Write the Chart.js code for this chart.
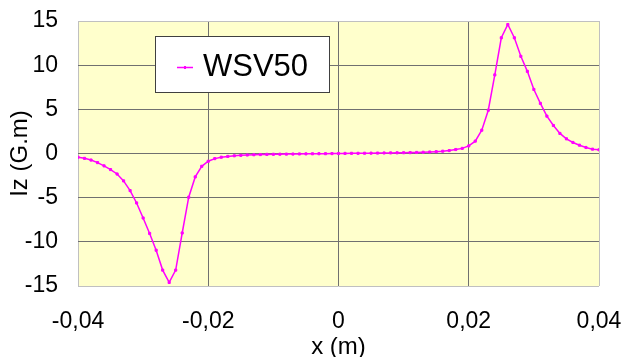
<!DOCTYPE html>
<html lang="fr">
<head>
  <meta charset="UTF-8" />
  <title>Iz WSV50</title>
  <script src="https://cdn.jsdelivr.net/npm/chart.js"></script>
  <style>
    html, body {
      margin: 0;
      padding: 0;
      background: #ffffff;
    }
    #wrap {
      width: 624px;
      height: 357px;
    }
  </style>
</head>
<body>
  <div id="wrap"><canvas id="izChart" width="624" height="357"></canvas></div>

  <script>
    // position le long de l'axe (m), pas de 1 mm
    const positions = [
      -0.040, -0.039, -0.038, -0.037, -0.036, -0.035, -0.034, -0.033, -0.032, -0.031,
      -0.030, -0.029, -0.028, -0.027, -0.026, -0.025, -0.024, -0.023, -0.022, -0.021,
      -0.020, -0.019, -0.018, -0.017, -0.016, -0.015, -0.014, -0.013, -0.012, -0.011,
      -0.010, -0.009, -0.008, -0.007, -0.006, -0.005, -0.004, -0.003, -0.002, -0.001,
       0.000,
       0.001,  0.002,  0.003,  0.004,  0.005,  0.006,  0.007,  0.008,  0.009,  0.010,
       0.011,  0.012,  0.013,  0.014,  0.015,  0.016,  0.017,  0.018,  0.019,  0.020,
       0.021,  0.022,  0.023,  0.024,  0.025,  0.026,  0.027,  0.028,  0.029,  0.030,
       0.031,  0.032,  0.033,  0.034,  0.035,  0.036,  0.037,  0.038,  0.039,  0.040
    ];

    // intégrale de champ Iz (G.m)
    const izWSV50 = [
      -0.42, -0.55, -0.74, -1.03, -1.40, -1.82, -2.32, -3.10, -4.20, -5.60,
      -7.30, -9.05, -10.95, -13.20, -14.60, -13.20, -9.00, -4.95, -2.65, -1.45,
      -0.88, -0.58, -0.42, -0.33, -0.26, -0.21, -0.17, -0.14, -0.12, -0.10,
      -0.09, -0.08, -0.07, -0.06, -0.05, -0.04, -0.03, -0.02, -0.02, -0.01,
       0.00,
       0.01,  0.02,  0.02,  0.03,  0.04,  0.05,  0.06,  0.07,  0.08,  0.09,
       0.10,  0.12,  0.14,  0.17,  0.21,  0.26,  0.33,  0.45,  0.58,  0.86,
       1.40,  2.64,  4.90,  8.90, 13.10, 14.60, 13.10, 11.00,  9.30,  7.25,
       5.67,  4.23,  3.17,  2.27,  1.66,  1.25,  0.94,  0.68,  0.49,  0.42
    ];

    const seriesLabel = 'WSV50';
    const xTicks = [-0.04, -0.02, 0, 0.02, 0.04];
    const yTicks = [-15, -10, -5, 0, 5, 10, 15];

    const fontFamily = '"Liberation Sans", Arial, sans-serif';
    const magenta = '#ff00ff';

    // fond jaune de la zone de tracé
    const plotBackground = {
      id: 'plotBackground',
      beforeDraw(chart) {
        const { ctx, chartArea: a } = chart;
        ctx.save();
        ctx.fillStyle = '#ffffcc';
        ctx.fillRect(a.left, a.top, a.right - a.left, a.bottom - a.top);
        ctx.restore();
      }
    };

    // légende encadrée dans la zone de tracé
    const boxedLegend = {
      id: 'boxedLegend',
      afterDraw(chart) {
        const ctx = chart.ctx;
        const ds = chart.data.datasets[0];
        const bx = 155.5, by = 36.5, bw = 174, bh = 56;
        ctx.save();
        ctx.fillStyle = '#ffffff';
        ctx.fillRect(bx, by, bw, bh);
        ctx.strokeStyle = '#404040';
        ctx.lineWidth = 1;
        ctx.strokeRect(bx, by, bw, bh);

        const cy = 67.5;
        ctx.strokeStyle = ds.borderColor;
        ctx.lineWidth = 1.5;
        ctx.beginPath();
        ctx.moveTo(177, cy);
        ctx.lineTo(193, cy);
        ctx.stroke();
        ctx.fillStyle = ds.borderColor;
        ctx.fillRect(184, cy - 1.5, 2, 3);

        ctx.fillStyle = '#000000';
        ctx.font = '31px ' + fontFamily;
        ctx.textBaseline = 'middle';
        ctx.textAlign = 'left';
        ctx.fillText(ds.label, 203, cy);
        ctx.restore();
      }
    };

    function gridColour(c, edges) {
      const v = c.tick ? c.tick.value : null;
      if (v !== null && edges.some(e => Math.abs(v - e) < 1e-9)) return '#c0c0c0';
      return '#707070';
    }

    function commaLabel(v) {
      if (Math.abs(v) < 1e-9) return '0';
      return v.toFixed(2).replace('.', ',');
    }

    const points = positions.map((x, i) => ({ x: x, y: izWSV50[i] }));

    new Chart(document.getElementById('izChart'), {
      type: 'line',
      data: {
        datasets: [{
          label: seriesLabel,
          data: points,
          borderColor: magenta,
          backgroundColor: magenta,
          borderWidth: 1.5,
          tension: 0,
          pointStyle: 'rect',
          pointRadius: 1.5,
          pointBorderWidth: 1,
          fill: false
        }]
      },
      options: {
        responsive: false,
        animation: false,
        parsing: false,
        layout: { padding: { top: 21, right: 25, left: 0, bottom: 0 } },
        plugins: {
          legend: { display: false },
          tooltip: { enabled: false }
        },
        scales: {
          x: {
            type: 'linear',
            min: xTicks[0],
            max: xTicks[xTicks.length - 1],
            afterBuildTicks(scale) {
              scale.ticks = xTicks.map(v => ({ value: v }));
            },
            afterFit(scale) {
              // hauteur fixe, pas de marge due aux libellés extrêmes
              scale.height = 71;
              scale.paddingLeft = 0;
              scale.paddingRight = 0;
            },
            grid: {
              color: c => gridColour(c, [xTicks[0], xTicks[xTicks.length - 1]]),
              lineWidth: 1,
              drawTicks: false
            },
            border: { display: false },
            ticks: {
              color: '#000000',
              padding: 22,
              maxRotation: 0,
              font: { family: fontFamily, size: 23 },
              callback: v => commaLabel(v)
            },
            title: {
              display: true,
              text: 'x (m)',
              color: '#000000',
              padding: { top: 0, bottom: -2 },
              font: { family: fontFamily, size: 24, lineHeight: 1 }
            }
          },
          y: {
            type: 'linear',
            min: yTicks[0],
            max: yTicks[yTicks.length - 1],
            afterBuildTicks(scale) {
              scale.ticks = yTicks.map(v => ({ value: v }));
            },
            afterFit(scale) {
              scale.width = 78;
              scale.paddingTop = 0;
              scale.paddingBottom = 0;
            },
            grid: {
              color: c => gridColour(c, [yTicks[0], yTicks[yTicks.length - 1]]),
              lineWidth: 1,
              drawTicks: false
            },
            border: { display: false },
            ticks: {
              color: '#000000',
              padding: 20,
              font: { family: fontFamily, size: 23 }
            },
            title: {
              display: true,
              text: 'Iz (G.m)',
              color: '#000000',
              padding: { top: 6, bottom: 0 },
              font: { family: fontFamily, size: 24 }
            }
          }
        }
      },
      plugins: [plotBackground, boxedLegend]
    });
  </script>
</body>
</html>
